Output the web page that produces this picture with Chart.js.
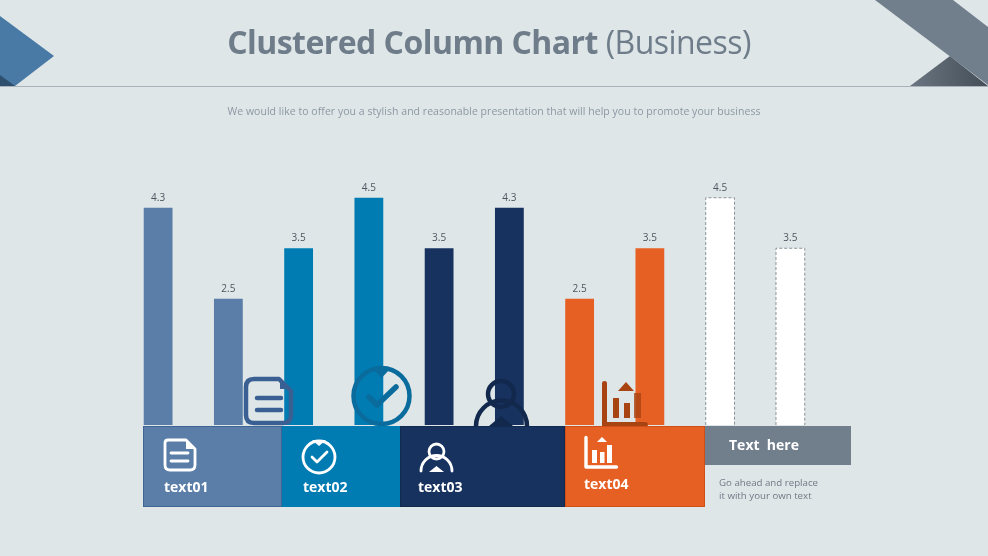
<!DOCTYPE html>
<html>
<head>
<meta charset="utf-8">
<title>Clustered Column Chart (Business)</title>
<script src="https://cdn.jsdelivr.net/npm/chart.js@4"></script>
<style>
    html, body { margin: 0; padding: 0; background: #dfe6e8; }
    #stage { position: relative; width: 988px; height: 556px; overflow: hidden; font-family: "Open Sans", sans-serif; }
    #stage canvas, #stage svg { position: absolute; left: 0; top: 0; }
    .txt { position: absolute; white-space: nowrap; line-height: 1; }
    #title { left: -5px; width: 988px; top: 26px; text-align: center; font-size: 32px; letter-spacing: -0.55px; font-weight: 700; color: #6f7d8b; }
    #title span { font-weight: 400; }
    #subtitle { left: 0; width: 988px; top: 106px; text-align: center; font-size: 10.5px; letter-spacing: 0.04px; color: #8c98a3; }
    .panel { position: absolute; top: 426px; height: 81px; box-sizing: border-box; border: 1px solid; }
    .name { color: #fff; font-weight: 700; font-size: 14px; }
    .note { color: #6f7a85; font-size: 9.7px; }
</style>
</head>
<body>
<div id="stage">
    <canvas id="chart" width="988" height="556"></canvas>

    <svg width="988" height="556" viewBox="0 0 988 556">
        <defs>
            <linearGradient id="darkCorner" x1="0" x2="1" y1="0" y2="0">
                <stop offset="0" stop-color="#6a7581"/>
                <stop offset="1" stop-color="#444e57"/>
            </linearGradient>
        </defs>
        <!-- header decoration -->
        <polygon points="0,16 54,56 15,86 0,86" fill="#487aa5"/>
        <polygon points="0,75 15,86 0,86" fill="#2e4f6d"/>
        <polygon points="910,86 950,56 988,86" fill="url(#darkCorner)"/>
        <polygon points="875,0 953,0 988,27 988,85" fill="#717e8c"/>
        <line x1="0" y1="86.5" x2="988" y2="86.5" stroke="#aab3bb" stroke-width="1"/>

        <!-- icons sitting on the panels, behind the panel edge -->
        <g fill="none" stroke="#3a6093" stroke-width="4.5" stroke-linecap="round" stroke-linejoin="round">
            <path d="M254 379 H279 L291 391 V415 Q291 423 283 423 H254 Q246 423 246 415 V387 Q246 379 254 379 Z"/>
            <path d="M257 398 H281 M257 410 H281"/>
        </g>
        <polygon points="280,378 291,389 280,389" fill="#3a6093"/>

        <g fill="none" stroke="#0a6c9c" stroke-width="4.5" stroke-linecap="round" stroke-linejoin="round">
            <circle cx="381.5" cy="396" r="28"/>
            <path d="M369 397 L377 405 L396 387" stroke-width="5.5"/>
        </g>
        <polygon points="372,368 391,368 381.5,378" fill="#0a6c9c"/>

        <g fill="none" stroke="#12294d" stroke-width="4.5">
            <circle cx="501" cy="394" r="13"/>
            <path d="M476 426 A25.5 25.5 0 0 1 527 426"/>
        </g>
        <polygon points="489,426 513,426 501,416" fill="#12294d"/>

        <g fill="#a84312">
            <path d="M602 383 Q602 381 604.5 381 Q607 381 607 383 V422 H645 Q648 422 648 424.5 Q648 427 645 427 H602 Z"/>
            <rect x="613" y="398" width="6" height="20"/>
            <rect x="624" y="403" width="6" height="15"/>
            <rect x="634" y="393" width="7" height="25" opacity="0.8"/>
            <polygon points="618,391 634,391 626,382"/>
        </g>
    </svg>

    <div class="panel" style="left:143px;width:139px;background:#5a7ea8;border-color:#3f6594"></div>
    <div class="panel" style="left:282px;width:118px;background:#007cb3;border-color:#007cb3"></div>
    <div class="panel" style="left:400px;width:165px;background:#17325f;border-color:#122950"></div>
    <div class="panel" style="left:565px;width:140px;background:#e66024;border-color:#cf4f16"></div>
    <div class="panel" style="left:705px;width:146px;height:39px;background:#717e8c;border-color:#717e8c"></div>

    <svg width="988" height="556" viewBox="0 0 988 556">
        <g fill="none" stroke="#fff" stroke-width="2.8" stroke-linejoin="round" stroke-linecap="round">
            <path d="M168 440 H186 L195 449 V465 Q195 470 190 470 H170 Q165 470 165 465 V443 Q165 440 168 440 Z"/>
            <path d="M171 453 H188 M171 461 H188"/>
            <circle cx="319" cy="457" r="16"/>
            <path d="M312 457 L317 462 L327 452"/>
            <circle cx="436.5" cy="451.5" r="7.5"/>
            <path d="M421 471 A15.5 15.5 0 0 1 452 471"/>
            <path d="M586 437.5 V467 H616.5" stroke-width="3.4"/>
        </g>
        <g fill="#fff">
            <polygon points="186,439 196,449 186,449"/>
            <polygon points="312,440 326,440 319,446"/>
            <polygon points="429,472 444,472 436.5,466"/>
            <rect x="592" y="450" width="5" height="13"/>
            <rect x="600" y="452" width="4.5" height="11"/>
            <rect x="607" y="445" width="5" height="18"/>
            <polygon points="597,442 607,442 602,437"/>
        </g>
    </svg>

    <div class="txt" id="title">Clustered Column Chart <span>(Business)</span></div>
    <div class="txt" id="subtitle">We would like to offer you a stylish and reasonable presentation that will help you to promote your business</div>
    <div class="txt name" style="left:164px;top:480px">text01</div>
    <div class="txt name" style="left:303px;top:480px">text02</div>
    <div class="txt name" style="left:418px;top:480px">text03</div>
    <div class="txt name" style="left:584px;top:477px">text04</div>
    <div class="txt name" style="left:729px;top:438px">Text&nbsp; here</div>
    <div class="txt note" style="left:719px;top:478px">Go ahead and replace</div>
    <div class="txt note" style="left:719px;top:491px">it with your own text</div>
</div>

<script>
const categories = ['text01', 'text02', 'text03', 'text04', 'Text here'];
const firstValues = [4.3, 3.5, 3.5, 2.5, 4.5];
const secondValues = [2.5, 4.5, 4.3, 3.5, 3.5];
const barColors = ['#5a7ea8', '#007cb3', '#17325f', '#e66024', '#ffffff'];

// value labels and the dashed outline on the white bars
const barExtras = {
    id: 'barExtras',
    afterDatasetsDraw(chart) {
        const ctx = chart.ctx;
        chart.data.datasets.forEach((dataset, d) => {
            chart.getDatasetMeta(d).data.forEach((bar, i) => {
                if (i === categories.length - 1) {
                    ctx.save();
                    ctx.setLineDash([3, 2]);
                    ctx.strokeStyle = '#8a9298';
                    ctx.lineWidth = 1;
                    ctx.beginPath();
                    ctx.moveTo(bar.x - bar.width / 2, bar.base);
                    ctx.lineTo(bar.x - bar.width / 2, bar.y);
                    ctx.lineTo(bar.x + bar.width / 2, bar.y);
                    ctx.lineTo(bar.x + bar.width / 2, bar.base);
                    ctx.stroke();
                    ctx.restore();
                }
                ctx.save();
                ctx.fillStyle = '#4c565f';
                ctx.font = '10px "Open Sans", sans-serif';
                ctx.textAlign = 'center';
                ctx.textBaseline = 'alphabetic';
                ctx.fillText(dataset.data[i].toFixed(1), bar.x, bar.y - 7);
                ctx.restore();
            });
        });
    }
};

new Chart(document.getElementById('chart').getContext('2d'), {
    type: 'bar',
    data: {
        labels: categories,
        datasets: [
            { label: 'Series 1', data: firstValues, backgroundColor: barColors },
            { label: 'Series 2', data: secondValues, backgroundColor: barColors }
        ]
    },
    options: {
        responsive: false,
        animation: false,
        layout: { padding: { left: 123, right: 162.5, top: 172.5, bottom: 131 } },
        datasets: { bar: { categoryPercentage: 1, barPercentage: 0.41 } },
        plugins: { legend: { display: false }, tooltip: { enabled: false } },
        scales: {
            x: { display: false },
            y: { display: false, min: 0, max: 5 }
        }
    },
    plugins: [barExtras]
});
</script>
</body>
</html>
